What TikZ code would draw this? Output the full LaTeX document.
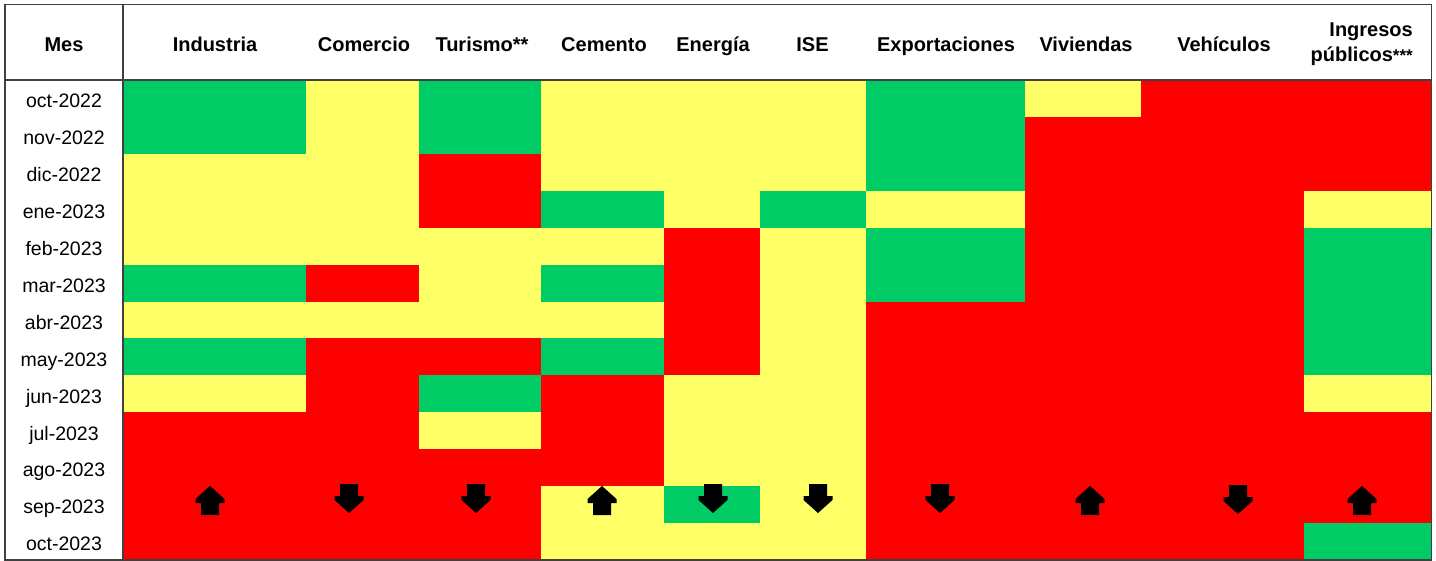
\documentclass[tikz,border=0pt]{standalone}
\usepackage{fontspec}
\setmainfont{Liberation Sans}
\definecolor{cG}{HTML}{00CC66}
\definecolor{cY}{HTML}{FFFF66}
\definecolor{cR}{HTML}{FF0000}
\definecolor{rulecol}{HTML}{404040}
\tikzset{
  hdr/.style={font=\fontsize{20}{24}\selectfont\bfseries, inner sep=0pt, anchor=base},
  hdrtwo/.style={font=\fontsize{20}{25}\selectfont\bfseries, inner sep=0pt, align=right, anchor=east},
  mon/.style={font=\fontsize{19.5}{22}\selectfont, inner sep=0pt, anchor=base},
  tableline/.style={draw=rulecol, line width=1.5pt},
  uparrow/.pic={\fill[black] (0,-14.5) -- (14.5,-1.5) -- (14.5,2.5) -- (9,2.5) -- (9,14.5) -- (-9,14.5) -- (-9,2.5) -- (-14.5,2.5) -- (-14.5,-1.5) -- cycle;},
  downarrow/.pic={\fill[black] (0,14.5) -- (14.5,1.5) -- (14.5,-2.5) -- (9,-2.5) -- (9,-14.5) -- (-9,-14.5) -- (-9,-2.5) -- (-14.5,-2.5) -- (-14.5,1.5) -- cycle;}
}
\begin{document}
\begin{tikzpicture}[x=1pt,y=-1pt]
\useasboundingbox (0,0) rectangle (1436,561);
\fill[white] (0,0) rectangle (1436,561);
% colour cells, column by column (rows oct-2022 ... oct-2023)
\foreach \xa/\xb/\cols in {
  123/306/{G,G,Y,Y,Y,G,Y,G,Y,R,R,R,R},
  306/419/{Y,Y,Y,Y,Y,R,Y,R,R,R,R,R,R},
  419/541/{G,G,R,R,Y,Y,Y,R,G,Y,R,R,R},
  541/664/{Y,Y,Y,G,Y,G,Y,G,R,R,R,Y,Y},
  664/760/{Y,Y,Y,Y,R,R,R,R,Y,Y,Y,G,Y},
  760/866/{Y,Y,Y,G,Y,Y,Y,Y,Y,Y,Y,Y,Y},
  866/1025/{G,G,G,Y,G,G,R,R,R,R,R,R,R},
  1025/1141/{Y,R,R,R,R,R,R,R,R,R,R,R,R},
  1141/1304/{R,R,R,R,R,R,R,R,R,R,R,R,R},
  1304/1431/{R,R,R,Y,G,G,G,G,Y,R,R,R,G}} {
  \foreach \c [count=\i] in \cols {
    \fill[c\c] (\xa,{80+(\i-1)*36.923}) rectangle (\xb,{80+\i*36.923});
  }
}
% table lines
\draw[tableline] (5,4.5) rectangle (1431.5,560);
\draw[tableline] (5,80) -- (1431.5,80);
\draw[tableline] (123,4.5) -- (123,560);
% header
\node[hdr] (hmes) at (64,52) {Mes};
\node[hdr] (h1) at (215,52) {Industria};
\node[hdr] (h2) at (364,52) {Comercio};
\node[hdr] (h3) at (482,52) {Turismo**};
\node[hdr] (h4) at (604,52) {Cemento};
\node[hdr] (h5) at (713,52) {Energía};
\node[hdr] (h6) at (812.5,52) {ISE};
\node[hdr] (h7) at (946,52) {Exportaciones};
\node[hdr] (h8) at (1086,52) {Viviendas};
\node[hdr] (h9) at (1224,52) {Vehículos};
\node[hdrtwo] (h10) at (1413,44.5) {Ingresos\\públicos{\fontsize{17}{17}\selectfont ***}};
% month labels
\foreach \m [count=\i] in {oct-2022,nov-2022,dic-2022,ene-2023,feb-2023,mar-2023,abr-2023,may-2023,jun-2023,jul-2023,ago-2023,sep-2023,oct-2023} {
  \node[mon] (r\i) at (64,{80+(\i-0.5)*36.923+9.3}) {\m};
}
% trend arrows (sep-2023 row)
\pic at (210,500.5) {uparrow};
\pic at (349,498.5) {downarrow};
\pic at (476,498.5) {downarrow};
\pic at (602,500.5) {uparrow};
\pic at (713,498.5) {downarrow};
\pic at (818,498.5) {downarrow};
\pic at (940,498.5) {downarrow};
\pic at (1090,500.5) {uparrow};
\pic at (1238,499.5) {downarrow};
\pic at (1362,500.5) {uparrow};
\end{tikzpicture}
\end{document}
